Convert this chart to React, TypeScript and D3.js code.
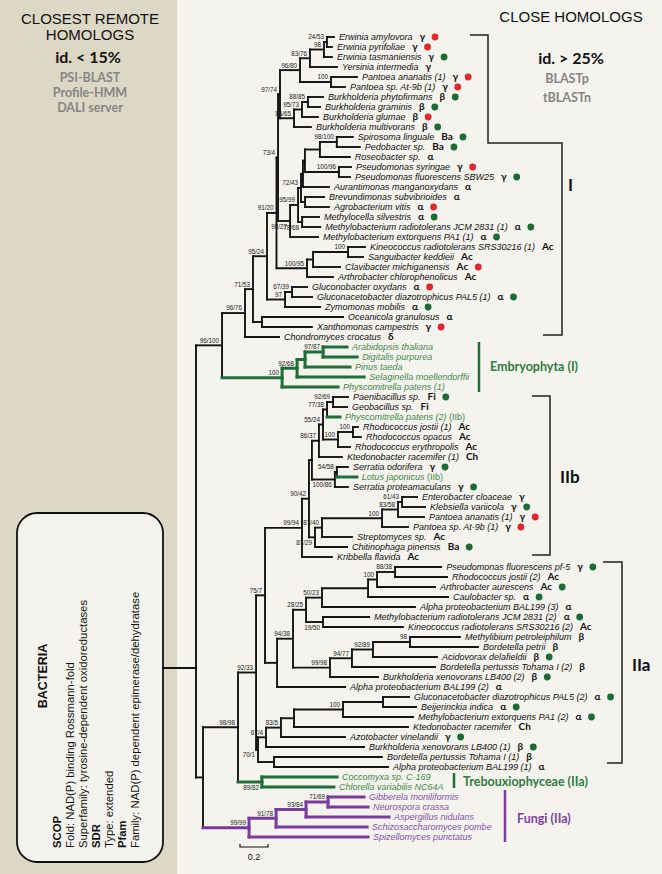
import React, { useEffect, useRef } from "react";
import * as d3 from "d3";

// ---------------- DATA ----------------
const leafNames: string[] = [
  "Erwinia amylovora", "Erwinia pyrifoliae", "Erwinia tasmaniensis", "Yersinia intermedia",
  "Pantoea ananatis (1)", "Pantoea sp. At-9b (1)", "Burkholderia phytofirmans", "Burkholderia graminis",
  "Burkholderia glumae", "Burkholderia multivorans", "Spirosoma linguale", "Pedobacter sp.",
  "Roseobacter sp.", "Pseudomonas syringae", "Pseudomonas fluorescens SBW25", "Aurantimonas manganoxydans",
  "Brevundimonas subvibrioides", "Agrobacterium vitis", "Methylocella silvestris",
  "Methylobacterium radiotolerans JCM 2831 (1)", "Methylobacterium extorquens PA1 (1)",
  "Kineococcus radiotolerans SRS30216 (1)", "Sanguibacter keddieii", "Clavibacter michiganensis",
  "Arthrobacter chlorophenolicus", "Gluconobacter oxydans", "Gluconacetobacter diazotrophicus PAL5  (1)",
  "Zymomonas mobilis", "Oceanicola granulosus", "Xanthomonas campestris", "Chondromyces crocatus",
  "Arabidopsis thaliana", "Digitalis purpurea", "Pinus taeda", "Selaginella moellendorffii",
  "Physcomitrella patens (1)", "Paenibacillus sp.", "Geobacillus sp.", "Physcomitrella patens (2)|(IIb)",
  "Rhodococcus jostii  (1)", "Rhodococcus opacus", "Rhodococcus erythropolis", "Ktedonobacter racemifer  (1)",
  "Serratia odorifera", "Lotus japonicus|(IIb)", "Serratia proteamaculans", "Enterobacter cloaceae",
  "Klebsiella variicola", "Pantoea ananatis (1)", "Pantoea sp. At-9b (1)", "Streptomyces sp.",
  "Chitinophaga pinensis", "Kribbella flavida", "Pseudomonas fluorescens pf-5", "Rhodococcus jostii (2)",
  "Arthrobacter aurescens", "Caulobacter sp.", "Alpha proteobacterium BAL199 (3)",
  "Methylobacterium radiotolerans JCM 2831 (2)", "Kineococcus radiotolerans SRS30216 (2)",
  "Methylibium petroleiphilum", "Bordetella petrii", "Acidovorax delafieldii",
  "Bordetella pertussis Tohama I (2)", "Burkholderia xenovorans LB400 (2)", "Alpha proteobacterium BAL199 (2)",
  "Gluconacetobacter diazotrophicus PAL5 (2)", "Beijerinckia indica", "Methylobacterium extorquens PA1 (2)",
  "Ktedonobacter racemifer", "Azotobacter vinelandii", "Burkholderia xenovorans LB400 (1)",
  "Bordetella pertussis Tohama I (1)", "Alpha proteobacterium BAL199 (1)", "Coccomyxa sp. C-169",
  "Chlorella variabilis NC64A", "Gibberela moniliformis", "Neurospora crassa", "Aspergillus nidulans",
  "Schizosaccharomyces pombe", "Spizellomyces punctatus",
];

const leafGroups: string[] = [
  "γ", "γ", "γ", "γ", "γ", "γ", "β", "β", "β", "β", "Ba", "Ba", "α", "γ", "γ", "α", "α", "α", "α", "α", "α",
  "Ac", "Ac", "Ac", "Ac", "α", "α", "α", "α", "γ", "δ", "", "", "", "", "", "Fi", "Fi", "", "Ac", "Ac", "Ac",
  "Ch", "γ", "", "γ", "γ", "γ", "γ", "γ", "Ac", "Ba", "Ac", "γ", "Ac", "Ac", "α", "α", "α", "Ac", "β", "β",
  "β", "β", "β", "α", "α", "α", "α", "Ch", "γ", "β", "β", "α", "", "", "", "", "", "", "",
];

const leafDots: string[] = [
  "r", "r", "g", "", "r", "r", "g", "g", "r", "g", "g", "g", "", "r", "g", "", "", "r", "g", "g", "g",
  "", "", "r", "", "r", "g", "g", "", "r", "", "", "", "", "", "", "g", "", "", "", "", "",
  "", "g", "", "g", "", "g", "r", "r", "", "g", "", "g", "", "g", "g", "", "g", "", "", "",
  "g", "", "g", "", "g", "g", "g", "", "g", "g", "", "", "", "", "", "", "", "", "",
];

const greenLeaves = [31, 32, 33, 34, 35, 38, 44, 74, 75];
const purpleLeaves = [76, 77, 78, 79, 80];

// Newick pieces: leaf = index in leafNames, internal label = bootstrap support, length = substitutions/site
const erwiniaPantoea = "((((0:0.05,1:0.036)24/53:0.021,2:0.057)98:0.1,3:0.193)83/76:0.071,(4:0.186,5:0.1)100:0.221)96/80:0.143";
const burkholderia = "(((6:0.107,7:0.086)88/85:0.043,8:0.114)95/73:0.057,9:0.121)86/65:0.1";
const nodeI = `(${erwiniaPantoea},${burkholderia})97/74:0.014`;
const spiroRoseo = "((10:0.114,11:0.164)98/100:0.121,12:0.214):0.107";
const withPseudo = `(${spiroRoseo},(13:0.086,14:0.079)100/96:0.243):0.014`;
const withAuranti = `(${withPseudo},15:0.186):0.014`;
const withBrev = `(${withAuranti},(16:0.136,17:0.171):0.029)72/43:0.021`;
const withMethylo = `(${withBrev},(18:0.121,19:0.129)78/68:0.029)95/99:0.057`;
const nodeJ = `(${withMethylo},20:0.2)98/27:0.086`;
const nodeH = `(${nodeI},${nodeJ})73/4:0.011`;
const actino = "(((21:0.121,22:0.107)100:0.25,23:0.193):0.043,24:0.186)100/95:0.218";
const nodeF = `(${nodeH},${actino})91/20:0.068`;
const glucono = "((25:0.107,26:0.143)67/39:0.05,27:0.25)97:0.129";
const nodeE = `(${nodeF},${glucono})95/24:0.1`;
const oceaXantho = "(28:0.579,29:0.357):0.064";
const nodeD = `(${nodeE},${oceaXantho})71/53:0.057`;
const nodeC = `(${nodeD},30:0.243)96/76:0.164`;
const embryophyta = "((((31:0.171,32:0.243)97/87:0.129,33:0.321):0.057,34:0.479)92/68:0.107,35:0.4)100:0.429";
const cladeI = `(${nodeC},${embryophyta})96/100:0.186`;

const firmRhodo = "((((36:0.107,37:0.1)92/69:0.043,38:0.093)77/38:0.029,((39:0.036,40:0.057)100:0.107,41:0.086)100:0.107)55/24:0.029,42:0.164)86/37:0.05";
const serratia = "((43:0.079,44:0.143)54/58:0.014,45:0.093)100/86:0.164";
const iibUpper = `(${firmRhodo},${serratia}):0.021`;
const enteroStrepto = "(((((46:0.107,47:0.164)61/43:0.029,48:0.186)83/58:0.114,49:0.186)100:0.429,50:0.214)87/40:0.05,51:0.229)87/29:0.043";
const cladeIIb = `((${iibUpper},${enteroStrepto})90/42:0.05,52:0.214)99/94:0.264`;

const iiaUpper = "(((((53:0.329,54:0.371)88/38:0.129,55:0.414)100:0.064,56:0.571):0.329,57:0.664)50/23:0.114,(58:0.329,59:0.571)19/50:0.121)28/25:0.093";
const betaIIa = "((((60:0.357,61:0.486)98:0.264,62:0.457)92/89:0.15,63:0.593)94/77:0.157,64:0.343)99/98:0.264";
const cladeIIa = `((${iiaUpper},${betaIIa})94/38:0.114,65:0.486):0.086`;
const nodeN75 = `(${cladeIIb},${cladeIIa})75/7:0.064`;
const methylIIa = "((((((66:0.186,67:0.236):0.286,68:0.5)100:0.35,69:0.814):0.093,70:0.457)83/5:0.107,71:0.7)67/4:0.057,(72:0.771,73:0.814):0.114)70/1:0.014";
const nodeN92 = `(${nodeN75},${methylIIa})92/33:0.129`;
const trebouxiophyceae = "(74:0.536,75:0.514)89/82:0.171";
const nodeB98 = `(${nodeN92},${trebouxiophyceae})98/98:0.25`;
const fungi = "((((76:0.257,77:0.286)71/69:0.157,78:0.593)93/84:0.214,79:0.65)91/78:0.193,80:0.85)99/99:0.329";
const cladeLower = `(${nodeB98},${fungi}):0.05`;
const treeNewick = `(${cladeI},${cladeLower});`;

const scaleBarValue = 0.2;

const boxLines = [
  { t: "SCOP", b: true },
  { t: "Fold: NAD(P) binding Rossmann-fold", b: false },
  { t: "Superfamily: tyrosine-dependent oxidoreductases", b: false },
  { t: "SDR", b: true },
  { t: "Type: extended", b: false },
  { t: "Pfam", b: true },
  { t: "Family: NAD(P) dependent epimerase/dehydratase", b: false },
];

// ---------------- helpers ----------------
function parseNewick(s: string): any {
  let i = 0;
  function node(): any {
    const n: any = {};
    const kids: any[] = [];
    if (s[i] === "(") {
      i++;
      kids.push(node());
      while (s[i] === ",") { i++; kids.push(node()); }
      i++;
    }
    let name = "";
    while (i < s.length && !",):;".includes(s[i])) name += s[i++];
    n.name = name.trim();
    n.length = 0;
    if (s[i] === ":") {
      i++;
      let num = "";
      while (i < s.length && !",);".includes(s[i])) num += s[i++];
      n.length = +num;
    }
    if (kids.length) n.children = kids;
    return n;
  }
  return node();
}

const SANS = "'Liberation Sans', Arial, sans-serif";
const CAL = "Lato, 'Liberation Sans', sans-serif";
const COL = {
  bg: "#f4f3ed",
  tan: "#dcd8c5",
  k: "#141414",
  g: "#1f6d37",
  p: "#7a3c9c",
  gText: "#3f8a4a",
  pText: "#8650a8",
  red: "#e3262b",
  dotG: "#1b6b34",
};

export default function App() {
  const ref = useRef<SVGSVGElement>(null);
  useEffect(() => {
    const svg = d3.select(ref.current);
    svg.selectAll("*").remove();
    const W = 662, H = 874;

    svg.append("rect").attr("width", W).attr("height", H).attr("fill", COL.bg);
    svg.append("rect").attr("width", 177).attr("height", H).attr("fill", COL.tan);

    // left headers
    const lh = svg.append("g").attr("text-anchor", "middle");
    lh.append("text").attr("x", 90).attr("y", 24).attr("font-family", SANS).attr("font-size", 15).attr("fill", "#111").text("CLOSEST REMOTE");
    lh.append("text").attr("x", 90).attr("y", 40).attr("font-family", SANS).attr("font-size", 15).attr("fill", "#111").text("HOMOLOGS");
    lh.append("text").attr("x", 88).attr("y", 63).attr("font-family", CAL).attr("font-weight", 700).attr("font-size", 16).attr("fill", "#111").text("id. < 15%");
    ["PSI-BLAST", "Profile-HMM", "DALI server"].forEach((t, i) =>
      lh.append("text").attr("x", 90).attr("y", 82 + i * 15).attr("font-family", CAL).attr("font-weight", 700).attr("font-size", 12.5).attr("fill", "#858585").text(t));

    // right headers
    const rh = svg.append("g").attr("text-anchor", "middle");
    rh.append("text").attr("x", 571).attr("y", 22).attr("font-family", SANS).attr("font-size", 15).attr("fill", "#111").text("CLOSE HOMOLOGS");
    rh.append("text").attr("x", 571).attr("y", 64).attr("font-family", CAL).attr("font-weight", 700).attr("font-size", 16).attr("fill", "#111").text("id. > 25%");
    ["BLASTp", "tBLASTn"].forEach((t, i) =>
      rh.append("text").attr("x", 567).attr("y", 83 + i * 19).attr("font-family", CAL).attr("font-weight", 700).attr("font-size", 12.5).attr("fill", "#858585").text(t));

    // Bacteria box
    svg.append("rect").attr("x", 17).attr("y", 513).attr("width", 146).attr("height", 349).attr("rx", 20)
      .attr("fill", COL.bg).attr("stroke", "#111").attr("stroke-width", 1.8);
    svg.append("text").attr("transform", "translate(47,676) rotate(-90)").attr("text-anchor", "middle")
      .attr("font-family", SANS).attr("font-weight", 700).attr("font-size", 12.5).attr("fill", "#111").text("BACTERIA");
    boxLines.forEach((l, i) => {
      svg.append("text").attr("transform", `translate(${61 + i * 13},848) rotate(-90)`)
        .attr("font-family", SANS).attr("font-weight", l.b ? 700 : 400).attr("font-size", 11.3).attr("fill", "#111").text(l.t);
    });

    // tree
    const root: any = d3.hierarchy(parseNewick(treeNewick));
    const x = d3.scaleLinear().domain([0, 1]).range([196, 336]);
    const y = d3.scaleLinear().domain([0, leafNames.length - 1]).range([37, 837]);
    root.each((n: any) => {
      n.dist = n.parent ? n.parent.dist + n.data.length : 0;
      n.px = x(n.dist);
    });
    root.eachAfter((n: any) => {
      if (!n.children) {
        n.idx = +n.data.name;
        n.py = y(n.idx);
        n.kind = greenLeaves.includes(n.idx) ? "g" : purpleLeaves.includes(n.idx) ? "p" : "k";
      } else {
        n.py = (n.children[0].py + n.children[n.children.length - 1].py) / 2;
        const kinds = new Set(n.children.map((c: any) => c.kind));
        n.kind = kinds.size === 1 ? n.children[0].kind : "k";
      }
    });
    const sw = (k: string) => (k === "k" ? 1.9 : 3);
    const tg = svg.append("g").attr("stroke-linecap", "square").attr("fill", "none");
    // stem from box
    tg.append("line").attr("x1", 163).attr("x2", root.px).attr("y1", 668).attr("y2", 668).attr("stroke", COL.k).attr("stroke-width", 1.9);
    root.descendants().forEach((n: any) => {
      if (n.children) {
        tg.append("line").attr("x1", n.px).attr("x2", n.px)
          .attr("y1", n.children[0].py).attr("y2", n.children[n.children.length - 1].py)
          .attr("stroke", (COL as any)[n.kind]).attr("stroke-width", sw(n.kind));
      }
      if (n.parent) {
        tg.append("line").attr("x1", n.parent.px).attr("x2", n.px).attr("y1", n.py).attr("y2", n.py)
          .attr("stroke", (COL as any)[n.kind]).attr("stroke-width", sw(n.kind));
      }
    });

    // supports
    const below = new Set(["19/50", "87/29", "89/82", "70/1", "78/68", "98/27", "100/86"]);
    const sg = svg.append("g").attr("font-family", SANS).attr("font-size", 6.3).attr("fill", "#222").attr("text-anchor", "end");
    root.descendants().forEach((n: any) => {
      if (n.children && n.data.name) {
        const b = below.has(n.data.name);
        sg.append("text").attr("x", n.px - 3).attr("y", b ? n.py + 7.8 : n.py - 2.6).text(n.data.name);
      }
    });

    // leaves
    const lg = svg.append("g");
    root.leaves().forEach((n: any) => {
      const [main, extra] = leafNames[n.idx].split("|");
      const fill = n.kind === "g" ? COL.gText : n.kind === "p" ? COL.pText : "#111";
      const t = lg.append("text").attr("x", n.px + 5).attr("y", n.py + 3.2).attr("font-family", SANS)
        .attr("font-size", 9).attr("fill", fill);
      t.append("tspan").attr("font-style", "italic").text(main);
      if (extra) t.append("tspan").text(" " + extra);
      const w = (t.node() as SVGTextElement).getComputedTextLength();
      let cx = n.px + 5 + w;
      const grp = leafGroups[n.idx];
      if (grp) {
        const gt = lg.append("text").attr("x", cx + 7).attr("y", n.py + 3.4).attr("font-family", CAL)
          .attr("font-weight", 700).attr("font-size", 10).attr("fill", "#111").text(grp);
        cx = cx + 7 + (gt.node() as SVGTextElement).getComputedTextLength();
      }
      const dot = leafDots[n.idx];
      if (dot) {
        lg.append("circle").attr("cx", cx + 10).attr("cy", n.py).attr("r", 3.4).attr("fill", dot === "r" ? COL.red : COL.dotG);
      }
    });

    // clade brackets
    const br = svg.append("g").attr("fill", "none").attr("stroke", "#222").attr("stroke-width", 1.5);
    br.append("path").attr("d", `M470,${y(0) - 2}H488V${y(10) + 6}H562V${y(29) + 8}H543`);
    br.append("path").attr("d", `M532,${y(36) - 1}H550V${y(52) - 2}H532`);
    br.append("path").attr("d", `M603,${y(53) - 5}H622V${y(73) - 4}H607`);
    svg.append("line").attr("x1", 479).attr("x2", 479).attr("y1", y(31) - 5).attr("y2", y(35) + 5).attr("stroke", COL.g).attr("stroke-width", 2.5);
    svg.append("line").attr("x1", 454).attr("x2", 454).attr("y1", y(74) - 4).attr("y2", y(75) + 1).attr("stroke", COL.g).attr("stroke-width", 2.5);
    svg.append("line").attr("x1", 505).attr("x2", 505).attr("y1", y(76) - 7).attr("y2", y(80) + 5).attr("stroke", COL.p).attr("stroke-width", 2.5);

    const cl = svg.append("g").attr("font-family", CAL).attr("font-weight", 700);
    cl.append("text").attr("x", 568).attr("y", 191).attr("font-size", 17).attr("fill", "#111").text("I");
    cl.append("text").attr("x", 560).attr("y", 483).attr("font-size", 17).attr("fill", "#111").text("IIb");
    cl.append("text").attr("x", 632).attr("y", 671).attr("font-size", 17).attr("fill", "#111").text("IIa");
    cl.append("text").attr("x", 490).attr("y", 371).attr("font-size", 12.5).attr("fill", "#2e7d3e").text("Embryophyta (I)");
    cl.append("text").attr("x", 463).attr("y", 786).attr("font-size", 12.5).attr("fill", "#2e7d3e").text("Trebouxiophyceae (IIa)");
    cl.append("text").attr("x", 517).attr("y", 823).attr("font-size", 12.5).attr("fill", "#7d40a0").text("Fungi (IIa)");

    // scale bar (below the tree)
    const sbX = 240;
    const sbLen = x(scaleBarValue) - x(0);
    const sbY = y(leafNames.length - 1) + 10;
    svg.append("path").attr("d", `M${sbX},${sbY - 3}V${sbY}H${sbX + sbLen}V${sbY - 3}`)
      .attr("fill", "none").attr("stroke", "#111").attr("stroke-width", 1.2);
    svg.append("text").attr("x", sbX + sbLen / 2).attr("y", sbY + 13).attr("text-anchor", "middle")
      .attr("font-family", SANS).attr("font-size", 9).attr("fill", "#111").text(String(scaleBarValue));
  }, []);
  return <svg ref={ref} width={662} height={874} style={{ position: "absolute", left: 0, top: 0, display: "block" }} />;
}
